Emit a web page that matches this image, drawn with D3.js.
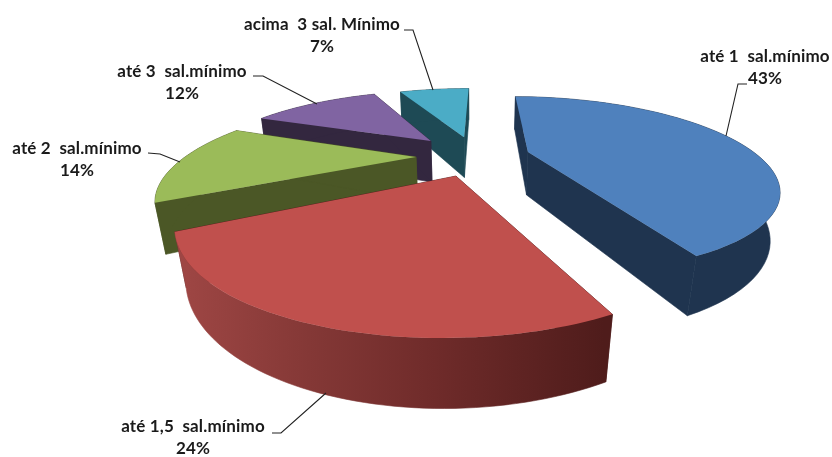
<!DOCTYPE html>
<html lang="pt">
<head>
    <meta charset="UTF-8">
    <title>Pizza 3D</title>
    <script src="https://d3js.org/d3.v7.min.js"></script>
</head>
<style>
    body { margin: 0; background: #fff; }
    svg { display: block; filter: blur(0.35px); }
    text { font-family: Lato, "Open Sans", sans-serif; font-weight: 700; font-size: 17px; letter-spacing: 0.15px; fill: #1a1a1a; white-space: pre; text-anchor: middle; }
</style>
<body>
<svg id="main" width="832" height="457"></svg>
<script>
    const categories = ['até 1  sal.mínimo', 'até 1,5  sal.mínimo', 'até 2  sal.mínimo', 'até 3  sal.mínimo', 'acima  3 sal. Mínimo'];
    const values = [43, 24, 14, 12, 7];
    const percentLabels = ['43%', '24%', '14%', '12%', '7%'];
    const explode = [0.237, 0.247, 0.259, 0.291, 0.266];
    const topColors = ['#4f81bd', '#c0504d', '#9bbb59', '#8064a2', '#4bacc6'];
    const wallColors = ['#1f344f', '#4f1c1b', '#4b5726', '#33273f', '#1e4a55'];

    // label centres and leader lines, placed by hand
    const labelX = [765, 193, 77, 182, 322];
    const labelY = [62, 432, 154, 77, 30];
    const leaders = [
        [[747, 84], [738, 84], [726, 136]],
        [[272, 433], [281, 433], [326, 393]],
        [[148, 153], [160, 154], [180, 162]],
        [[253, 76], [263, 76], [317, 104]],
        [[404, 30], [413, 30], [433, 90]]
    ];

    // camera fitted by eye to the picture
    const pitch = 0.35, dist = 2.485, focal = 570.7, thick = 0.208, cx = 475.7, cy = 155.8, rotation = 0.01;

    let svg = d3.select('svg#main');

    function project(X, Z, h) {
        let Y = -h * thick;
        let yc = Y * Math.cos(pitch) - Z * Math.sin(pitch);
        let zc = dist - (Y * Math.sin(pitch) + Z * Math.cos(pitch));
        return [cx + focal * X / zc, cy - focal * yc / zc];
    }

    let slices = d3.pie().sort(null)
        .startAngle(rotation).endAngle(rotation + 2 * Math.PI)(values);

    let line = d3.line();

    let gradient = svg.append('defs').append('linearGradient')
        .attr('id', 'redWall').attr('gradientUnits', 'userSpaceOnUse')
        .attr('x1', 183).attr('x2', 604).attr('y1', 0).attr('y2', 0);
    [[0, '#9e4644'], [.3, '#843836'], [.6, '#6f2b2a'], [1, '#4f1c1b']].forEach(d => {
        gradient.append('stop').attr('offset', d[0]).attr('stop-color', d[1]);
    });

    let pie = svg.append('g');

    // back to front
    [4, 3, 2, 0, 1].forEach(s => {
        let d = slices[s];
        let mid = (d.startAngle + d.endAngle) / 2;
        let point = (a, r, h) => project(
            explode[s] * Math.sin(mid) + r * Math.sin(a),
            -explode[s] * Math.cos(mid) - r * Math.cos(a), h);
        let rim = h => d3.range(61).map(i => point(d.startAngle + (d.endAngle - d.startAngle) * i / 60, 1, h));
        let top = rim(0), bottom = rim(1);
        let apexTop = point(0, 0, 0), apexBottom = point(0, 0, 1);
        let wall = s === 1 ? 'url(#redWall)' : wallColors[s];

        pie.append('path').attr('d', line([apexTop, top[0], bottom[0], apexBottom]) + 'Z')
            .attr('fill', wallColors[s]).attr('stroke', wallColors[s]).attr('stroke-width', 0.6);
        pie.append('path').attr('d', line([apexTop, top[60], bottom[60], apexBottom]) + 'Z')
            .attr('fill', wallColors[s]).attr('stroke', wallColors[s]).attr('stroke-width', 0.6);
        pie.append('path').attr('d', line(top.concat(bottom.slice().reverse())) + 'Z')
            .attr('fill', wall).attr('stroke', wall).attr('stroke-width', 0.6);
        pie.append('path').attr('d', line([apexTop].concat(top)) + 'Z')
            .attr('fill', topColors[s]);
    });

    svg.selectAll('.leader').data(leaders).enter().append('path')
        .attr('class', 'leader')
        .attr('d', d => line(d))
        .attr('fill', 'none').attr('stroke', '#222').attr('stroke-width', 1.1);

    let labels = svg.selectAll('.label').data(categories).enter().append('g')
        .attr('class', 'label')
        .attr('transform', (d, i) => 'translate(' + labelX[i] + ',' + labelY[i] + ')');
    labels.append('text').text(d => d);
    labels.append('text').attr('y', 22).text((d, i) => percentLabels[i]);
</script>
</body>
</html>
